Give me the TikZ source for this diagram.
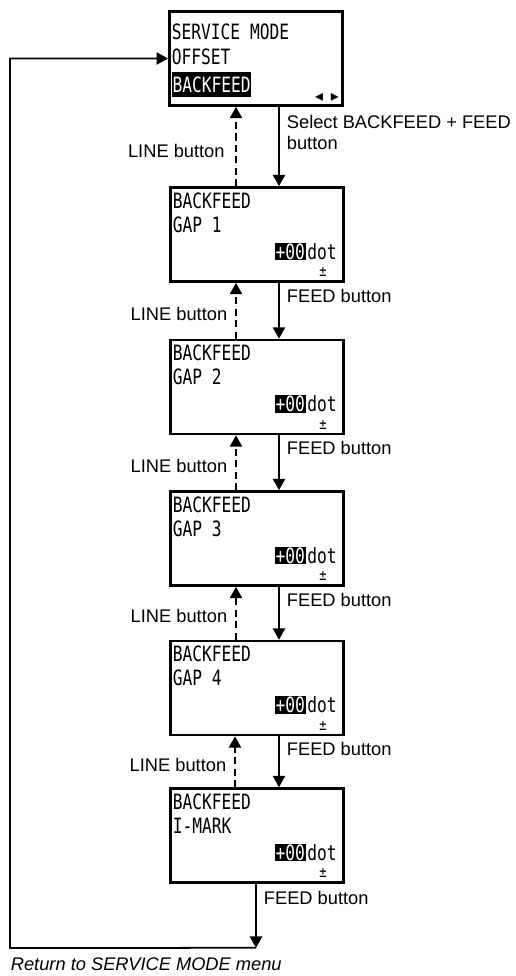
\documentclass[tikz,border=0pt]{standalone}
\usepackage{fontspec}
\setmainfont{Liberation Sans}
\newfontfamily\lcdfont[FakeStretch=0.77]{DejaVu Sans Mono}
\newfontfamily\symfont{DejaVu Sans}
\usetikzlibrary{arrows.meta, positioning, calc}

\begin{document}
\begin{tikzpicture}[
    x=0.02cm, y=-0.02cm,
    screen/.style={draw, rectangle, line width=1.5pt, minimum width=3.47cm, minimum height=1.88cm, inner sep=0pt},
    lcd/.style={anchor=base west, inner sep=0pt, font=\lcdfont\fontsize{12}{13}\selectfont},
    hilite/.style={lcd, fill=black, text=white, inner xsep=0.4pt, inner ysep=0.5pt},
    pm/.style={inner sep=0pt, font=\lcdfont\fontsize{9}{10}\selectfont},
    lbl/.style={inner sep=0pt, align=left, font=\fontsize{10.4}{12}\selectfont},
    back/.style={dashed, dash pattern=on 4pt off 2.5pt},
    >={Triangle[length=6.5pt, width=7pt]},
    line width=1pt
  ]
  \useasboundingbox (0,0) rectangle (516,976);

  % Screens
  \node[screen] (menu) at (256,58.5) {};
  \node[screen] (gap1) at (257,234.5) {};
  \node[screen] (gap2) at (257,387) {};
  \node[screen] (gap3) at (257,538.5) {};
  \node[screen] (gap4) at (257,688) {};
  \node[screen] (imark) at (257,835.5) {};

  % Menu screen text
  \node[lcd] (m1) at ($(menu.north west)+(3,29)$) {SERVICE MODE};
  \node[lcd] (m2) at ($(menu.north west)+(3,54)$) {OFFSET};
  \node[hilite, inner ysep=2.4pt] (m3) at ($(menu.north west)+(3,82)$) {BACKFEED};
  \node[inner sep=0pt, font=\symfont\fontsize{9}{10}\selectfont] (m4) at ($(menu.north west)+(159,87)$) {◂\hspace{4.5pt}▸};

  % Gap screens text
  \node[lcd] (g1a) at ($(gap1.north west)+(3,22)$) {BACKFEED};
  \node[lcd] (g1b) at ($(gap1.north west)+(3,46)$) {GAP 1};
  \node[hilite] (g1c) at ($(gap1.north west)+(105,73)$) {+00};
  \node[lcd] (g1d) at (g1c.base east) {dot};
  \node[pm] (g1e) at ($(gap1.north west)+(154,86)$) {±};

  \node[lcd] (g2a) at ($(gap2.north west)+(3,22)$) {BACKFEED};
  \node[lcd] (g2b) at ($(gap2.north west)+(3,46)$) {GAP 2};
  \node[hilite] (g2c) at ($(gap2.north west)+(105,73)$) {+00};
  \node[lcd] (g2d) at (g2c.base east) {dot};
  \node[pm] (g2e) at ($(gap2.north west)+(154,86)$) {±};

  \node[lcd] (g3a) at ($(gap3.north west)+(3,22)$) {BACKFEED};
  \node[lcd] (g3b) at ($(gap3.north west)+(3,46)$) {GAP 3};
  \node[hilite] (g3c) at ($(gap3.north west)+(105,73)$) {+00};
  \node[lcd] (g3d) at (g3c.base east) {dot};
  \node[pm] (g3e) at ($(gap3.north west)+(154,86)$) {±};

  \node[lcd] (g4a) at ($(gap4.north west)+(3,22)$) {BACKFEED};
  \node[lcd] (g4b) at ($(gap4.north west)+(3,46)$) {GAP 4};
  \node[hilite] (g4c) at ($(gap4.north west)+(105,73)$) {+00};
  \node[lcd] (g4d) at (g4c.base east) {dot};
  \node[pm] (g4e) at ($(gap4.north west)+(154,86)$) {±};

  \node[lcd] (i1a) at ($(imark.north west)+(3,22)$) {BACKFEED};
  \node[lcd] (i1b) at ($(imark.north west)+(3,46)$) {I-MARK};
  \node[hilite] (i1c) at ($(imark.north west)+(105,73)$) {+00};
  \node[lcd] (i1d) at (i1c.base east) {dot};
  \node[pm] (i1e) at ($(imark.north west)+(154,86)$) {±};

  % Forward (FEED) connections
  \draw[->] ($(menu.south)+(23,0)$) -- node[lbl, pos=0, anchor=north west, xshift=4pt, yshift=-4.5pt] {Select BACKFEED + FEED\\button} ($(gap1.north)+(22,0)$);
  \draw[->] ($(gap1.south)+(22,0)$) -- node[lbl, pos=0, anchor=north west, xshift=4pt, yshift=-3pt] {FEED button} ($(gap2.north)+(22,0)$);
  \draw[->] ($(gap2.south)+(22,0)$) -- node[lbl, pos=0, anchor=north west, xshift=4pt, yshift=-3pt] {FEED button} ($(gap3.north)+(22,0)$);
  \draw[->] ($(gap3.south)+(22,0)$) -- node[lbl, pos=0, anchor=north west, xshift=4pt, yshift=-3pt] {FEED button} ($(gap4.north)+(22,0)$);
  \draw[->] ($(gap4.south)+(22,0)$) -- node[lbl, pos=0, anchor=north west, xshift=4pt, yshift=-3pt] {FEED button} ($(imark.north)+(22,0)$);

  % Backward (LINE) connections
  \draw[->, back] ($(gap1.north)+(-21,0)$) -- node[lbl, anchor=base east, xshift=-6pt, yshift=-6.5pt] {LINE button} ($(menu.south)+(-20,0)$);
  \draw[->, back] ($(gap2.north)+(-21,0)$) -- node[lbl, anchor=base east, xshift=-4.5pt, yshift=-5.5pt] {LINE button} ($(gap1.south)+(-21,0)$);
  \draw[->, back] ($(gap3.north)+(-21,0)$) -- node[lbl, anchor=base east, xshift=-4.5pt, yshift=-5.5pt] {LINE button} ($(gap2.south)+(-21,0)$);
  \draw[->, back] ($(gap4.north)+(-21,0)$) -- node[lbl, anchor=base east, xshift=-4.5pt, yshift=-5.5pt] {LINE button} ($(gap3.south)+(-21,0)$);
  \draw[->, back] ($(imark.north)+(-22,0)$) -- node[lbl, anchor=base east, xshift=-4.5pt, yshift=-5.5pt] {LINE button} ($(gap4.south)+(-22,0)$);

  % Return to menu
  \coordinate (ret) at ($(imark.south)+(-1,64)$);
  \coordinate (corner) at (10,948);
  \draw[->] ($(imark.south)+(-1,0)$) -- node[lbl, pos=0, anchor=north west, xshift=4pt, yshift=-4pt] {FEED button} (ret);
  \draw[->] (ret) -- (corner) |- (menu.west);
  \node[lbl, anchor=base west, font=\fontsize{10.4}{12}\selectfont\itshape] (back) at (10,970) {Return to SERVICE MODE menu};
\end{tikzpicture}
\end{document}
